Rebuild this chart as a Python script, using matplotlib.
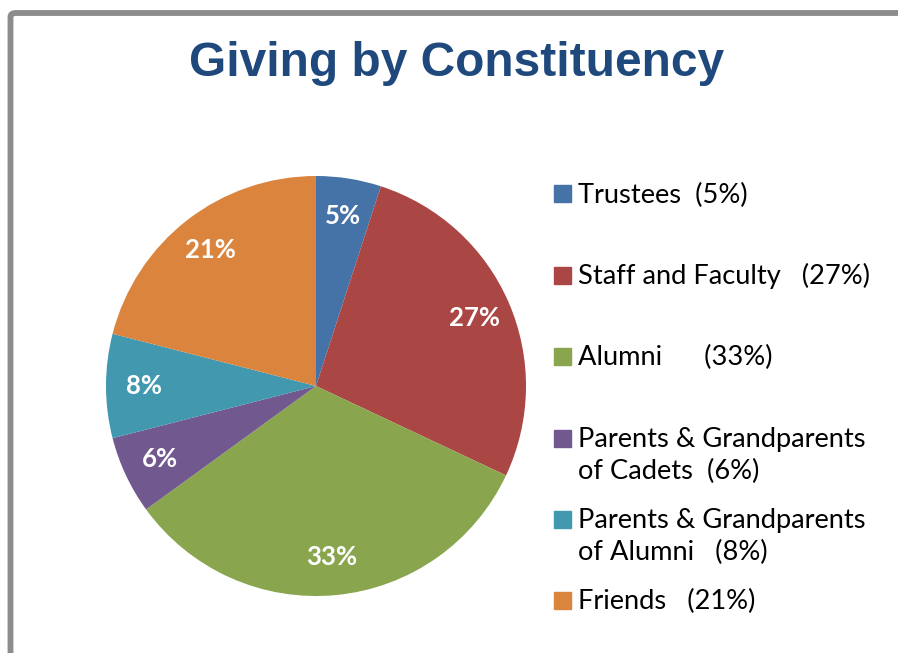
import matplotlib.pyplot as plt
from matplotlib.patches import Rectangle, FancyBboxPatch

# data
categories = ["Trustees  (5%)", "Staff and Faculty   (27%)", "Alumni      (33%)",
              "Parents & Grandparents\nof Cadets  (6%)",
              "Parents & Grandparents\nof Alumni   (8%)", "Friends   (21%)"]
shares = [5, 27, 33, 6, 8, 21]
colors = ["#4572A7", "#AA4643", "#89A54E", "#71588F", "#4198AF", "#DB843D"]

W, H = 898, 653
fig = plt.figure(figsize=(W / 100, H / 100), dpi=100)

# gray frame (only top and left edges visible)
frame = FancyBboxPatch((10.5 / W, -0.1), 1.2, (H - 13) / H + 0.1,
                       boxstyle="round,pad=0,rounding_size=0.006",
                       transform=fig.transFigure, fill=False,
                       edgecolor="#8c8c8c", linewidth=4.2)
fig.patches.append(frame)

fig.text(457 / W, 1 - 64 / H, "Giving by Constituency", ha="center", va="center",
         fontsize=34.5, fontweight="bold", color="#1F497D", family="Liberation Sans")

ax = fig.add_axes([106 / W, 1 - 596 / H, 420 / W, 420 / H])
ax.pie(shares, colors=colors, startangle=90, counterclock=False,
       autopct="%d%%", pctdistance=0.82,
       textprops=dict(color="white", fontsize=18.5, fontweight="bold",
                      family="Lato"))
ax.set_xlim(-1, 1)
ax.set_ylim(-1, 1)
ax.set_aspect("equal")

# legend drawn by hand
ys = [194, 275, 356, 438, 519, 600]
line_h = 33
for lab, col, y in zip(categories, colors, ys):
    fig.patches.append(Rectangle((554 / W, 1 - (y + 8.5) / H), 17 / W, 17 / H,
                                 transform=fig.transFigure, color=col))
    n = lab.count("\n")
    fig.text(578 / W, 1 - (y + n * line_h / 2 + 1) / H, lab, ha="left", va="center",
             fontsize=19.6, family="Lato", linespacing=1.38, color="black")

fig.savefig("out.png", dpi=100)
